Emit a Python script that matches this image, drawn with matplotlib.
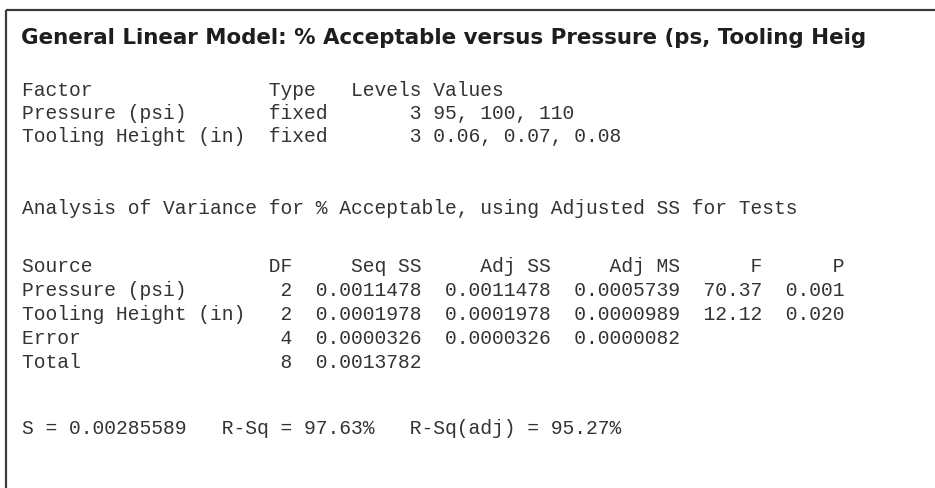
import matplotlib.pyplot as plt


# --------------------------------------------------
# Session output values (Minitab GLM)
# --------------------------------------------------

title = "General Linear Model: % Acceptable versus Pressure (ps, Tooling Heig"

factor_names = ["Pressure (psi)", "Tooling Height (in)"]
factor_types = ["fixed", "fixed"]
factor_levels = [3, 3]
factor_values = ["95, 100, 110", "0.06, 0.07, 0.08"]

anova_heading = "Analysis of Variance for % Acceptable, using Adjusted SS for Tests"

sources = ["Pressure (psi)", "Tooling Height (in)", "Error", "Total"]
dof = [2, 2, 4, 8]
seq_ss = ["0.0011478", "0.0001978", "0.0000326", "0.0013782"]
adj_ss = ["0.0011478", "0.0001978", "0.0000326", ""]
adj_ms = ["0.0005739", "0.0000989", "0.0000082", ""]
f_values = ["70.37", "12.12", "", ""]
p_values = ["0.001", "0.020", "", ""]

s_value = "0.00285589"
r_sq = "97.63%"
r_sq_adj = "95.27%"


# --------------------------------------------------
# Build the monospaced lines
# --------------------------------------------------

factor_lines = ["Factor               Type   Levels Values"]
for name, kind, level, values in zip(factor_names, factor_types,
                                     factor_levels, factor_values):
    factor_lines.append(f"{name:<21}{kind:<7}{level:>6} {values}")

anova_lines = [
    f"{'Source':<21}{'DF':>2}{'Seq SS':>11}{'Adj SS':>11}"
    f"{'Adj MS':>11}{'F':>7}{'P':>7}"
]
for i, source in enumerate(sources):
    line = (f"{source:<21}{dof[i]:>2}{seq_ss[i]:>11}{adj_ss[i]:>11}"
            f"{adj_ms[i]:>11}{f_values[i]:>7}{p_values[i]:>7}")
    anova_lines.append(line.rstrip())

summary_line = f"S = {s_value}   R-Sq = {r_sq}   R-Sq(adj) = {r_sq_adj}"


# --------------------------------------------------
# Draw the session window
# --------------------------------------------------

figure = plt.figure(figsize=(9.35, 4.89), dpi=100)
axis = figure.add_axes([0, 0, 1, 1])
axis.set_xlim(0, 935)
axis.set_ylim(489, 0)
axis.axis("off")

frame_color = "#3a3a3a"
axis.plot([6, 6], [489, 11], color=frame_color, linewidth=1.6,
          solid_capstyle="butt")
axis.plot([6, 935], [11, 11], color=frame_color, linewidth=1.6,
          solid_capstyle="butt")

# title: scale the font so the line runs to about x = 870
title_text = axis.text(21, 38, title, fontsize=14, fontweight="bold",
                       family="DejaVu Sans", color="#1e1e1e", va="center")
renderer = figure.canvas.get_renderer()
title_width = title_text.get_window_extent(renderer).width
title_text.set_fontsize(14 * 849 / title_width)

mono = dict(fontsize=14.1, family="Liberation Mono", color="#333333",
            va="center")

x_left = 22

for i, line in enumerate(factor_lines):
    axis.text(x_left, 90 + i * 23.5, line, **mono)

axis.text(x_left, 209, anova_heading, **mono)

for i, line in enumerate(anova_lines):
    axis.text(x_left, 267 + i * 24, line, **mono)

axis.text(x_left, 429, summary_line, **mono)

plt.savefig("out.png", dpi=100)
